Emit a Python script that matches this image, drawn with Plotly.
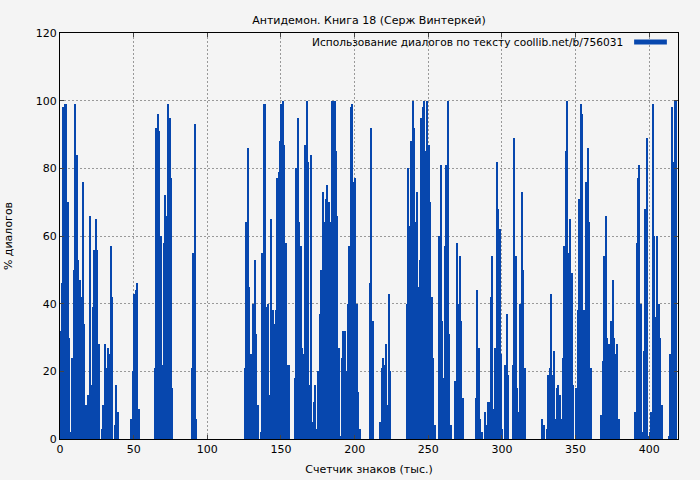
import plotly.graph_objects as go

# значения по тысячам знаков (0..418)
x_labels = [0, 50, 100, 150, 200, 250, 300, 350, 400]
y_labels = [0, 20, 40, 60, 80, 100, 120]

seg = {
    0: [32, 46, 98, 99, 99, 70, 30, 2, 24, 50, 99, 84, 53, 47, 42, 76, 34, 10, 4, 13,
        66, 16, 39, 56, 65, 56, 28, 0, 3, 10, 28, 21, 27, 25, 57, 42, 0, 4, 16, 8],
    48: [6, 20, 43, 44, 46, 9],
    64: [21, 92, 96, 91, 60, 22, 58, 72, 66, 99, 95, 77, 15],
    89: [21, 55, 93, 6],
    125: [21, 64, 86, 45, 25, 13, 40, 53, 31, 10, 0, 2, 55, 99, 99, 39, 40, 13, 65, 38,
          34, 38, 77, 79, 88, 99, 100, 87, 58, 22, 22],
    159: [18, 80, 95, 64, 57, 27, 25, 87, 100, 82, 16, 84, 5, 11, 16, 3, 20, 37, 50, 73,
          64, 71, 75, 70, 64, 100, 100, 100, 85, 66, 27, 1, 24, 32, 32, 20, 40, 57, 98, 99,
          76, 77, 40, 14, 3],
    210: [46, 92, 35],
    217: [5, 21, 24, 22, 28, 10, 43, 20],
    235: [40, 80, 63, 88, 100, 92, 64, 73, 45, 53, 95, 98, 100, 85, 100, 87, 70, 42, 24, 4],
    257: [60, 81, 35, 18, 57, 81, 100, 31, 4],
    268: [17, 58, 40, 54, 35, 12],
    282: [12, 44, 27, 6, 2, 0, 8, 4, 11, 11, 42, 54, 9, 27, 82, 68, 62, 25, 3, 0, 22, 37, 19],
    307: [22, 89, 54, 15, 8, 40, 73, 50, 21],
    327: [6, 4, 0, 3, 19, 21, 43, 19, 26, 6, 15, 16, 13, 6, 24, 57, 85, 100, 55, 65, 49, 16,
          0, 15, 38, 71, 99, 96, 38, 38, 76, 86, 64, 21],
    367: [7, 23, 54, 66, 30, 28, 7, 35, 47, 30, 25, 28, 6],
    390: [8, 58, 77, 81, 40, 2, 26, 68, 89, 1, 2, 8, 99, 60, 36, 60, 40, 30, 10],
    413: [1, 25, 98, 82, 100, 100],
}

x = list(range(419))
y = [0] * 419
for start, vals in seg.items():
    for i, v in enumerate(vals):
        y[start + i] = v

blue = '#0747ae'
fig = go.Figure()
fig.add_trace(go.Bar(x=[i + 0.5 for i in x], y=y, width=1, marker_color=blue,
                     marker_line_width=0, showlegend=False))

fig.update_layout(
    width=700, height=480,
    margin=dict(l=60, r=22, t=33, b=41),
    paper_bgcolor='#f4f4f4', plot_bgcolor='#f4f4f4',
    font=dict(family='DejaVu Sans', size=11, color='black'),
    title=dict(text='Антидемон. Книга 18 (Серж Винтеркей)', x=0.5, xref='paper', y=0.967,
               xanchor='center', font=dict(size=11)),
    bargap=0,
)
grid = dict(showgrid=True, gridcolor='#999999', griddash='2px,2px', gridwidth=1,
            showline=True, linecolor='black', linewidth=1, mirror='ticks',
            ticks='inside', ticklen=4, zeroline=False, automargin=False)
fig.update_xaxes(range=[0, 419.5], tickvals=x_labels, title_text='Счетчик знаков (тыс.)',
                 title_font_size=11, title_standoff=10, **grid)
fig.update_yaxes(range=[0, 120], tickvals=y_labels, title_text='% диалогов',
                 title_font_size=11, title_standoff=20, **grid)

fig.add_annotation(text='Использование диалогов по тексту coollib.net/b/756031',
                   xref='paper', yref='paper', x=0.915, y=0.978, xanchor='right',
                   yanchor='middle', showarrow=False, font=dict(size=10.6))
fig.add_shape(type='line', xref='paper', yref='paper', x0=0.929, x1=0.982,
              y0=0.978, y1=0.978, line=dict(color=blue, width=5))

# убрать отступ body, чтобы график стоял в углу окна
fig.write_html('out.html', config={'displayModeBar': False},
               post_script="document.body.style.margin='0';")
